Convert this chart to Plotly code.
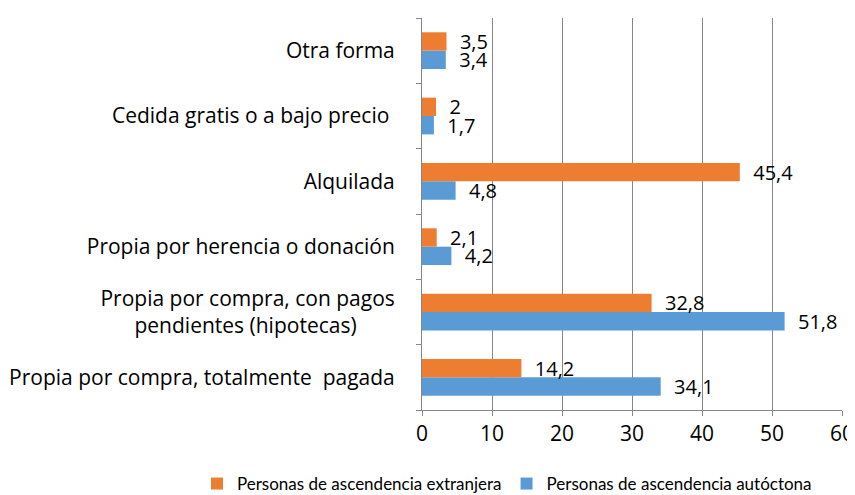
import plotly.graph_objects as go

categories = [
    "Propia por compra, totalmente\u00a0 pagada",
    "Propia por compra, con pagos<br>pendientes (hipotecas)" + "\u00a0" * 7,
    "Propia por herencia o donación",
    "Alquilada",
    "Cedida gratis o a bajo precio\u00a0",
    "Otra forma",
]
extranjera = [14.2, 32.8, 2.1, 45.4, 2, 3.5]
autoctona = [34.1, 51.8, 4.2, 4.8, 1.7, 3.4]
x_ticks = [0, 10, 20, 30, 40, 50, 60]

def fmt(vals):
    return ["\u00a0\u00a0" + str(v).replace(".", ",") for v in vals]

FONT = "'Open Sans', Lato, sans-serif"
LFONT = "Lato, 'Open Sans', sans-serif"

# page body has an 8px default margin; figure sized to fill the rest of the window
W, H = 847, 487
ML, MR, MT, MB = 414, 13, 10, 85
PW, PH = W - ML - MR, H - MT - MB

fig = go.Figure()
fig.add_trace(go.Bar(
    y=categories, x=autoctona, orientation="h",
    name="Personas de ascendencia autóctona",
    marker=dict(color="#5B9BD5", line=dict(width=0)),
    text=fmt(autoctona), textposition="outside", cliponaxis=False,
    constraintext="none",
    textfont=dict(size=20, color="#000000", family=FONT),
))
fig.add_trace(go.Bar(
    y=categories, x=extranjera, orientation="h",
    name="Personas de ascendencia extranjera",
    marker=dict(color="#ED7D31", line=dict(width=0)),
    text=fmt(extranjera), textposition="outside", cliponaxis=False,
    constraintext="none",
    textfont=dict(size=20, color="#000000", family=FONT),
))

fig.update_layout(
    width=W, height=H,
    margin=dict(l=ML, r=MR, t=MT, b=MB, autoexpand=False),
    barmode="group", bargap=0.4375, bargroupgap=0,
    plot_bgcolor="white", paper_bgcolor="white",
    font=dict(family=FONT, size=21, color="#000000"),
    separators=",.",
    showlegend=True,
    legend=dict(orientation="h", xref="paper", yref="paper",
                x=(189 - ML) / PW, xanchor="left",
                y=-(476 - (H - MB)) / PH, yanchor="middle",
                traceorder="reversed", font=dict(size=17, family=LFONT),
                bgcolor="rgba(0,0,0,0)"),
)
fig.update_xaxes(
    range=[0, 60], tickvals=x_ticks, showgrid=True, gridcolor="#868686", gridwidth=1,
    showline=True, linecolor="#868686", linewidth=1, ticks="outside", ticklen=5,
    tickcolor="#868686", zeroline=False, tickfont=dict(size=21), automargin=False,
)
fig.update_yaxes(
    type="category", showline=True, linecolor="#868686", linewidth=1,
    ticks="outside", ticklen=5, tickcolor="#868686", tickson="boundaries",
    showgrid=False, ticklabelstandoff=22, tickfont=dict(size=21), automargin=False,
)
fig.write_html("out.html")
